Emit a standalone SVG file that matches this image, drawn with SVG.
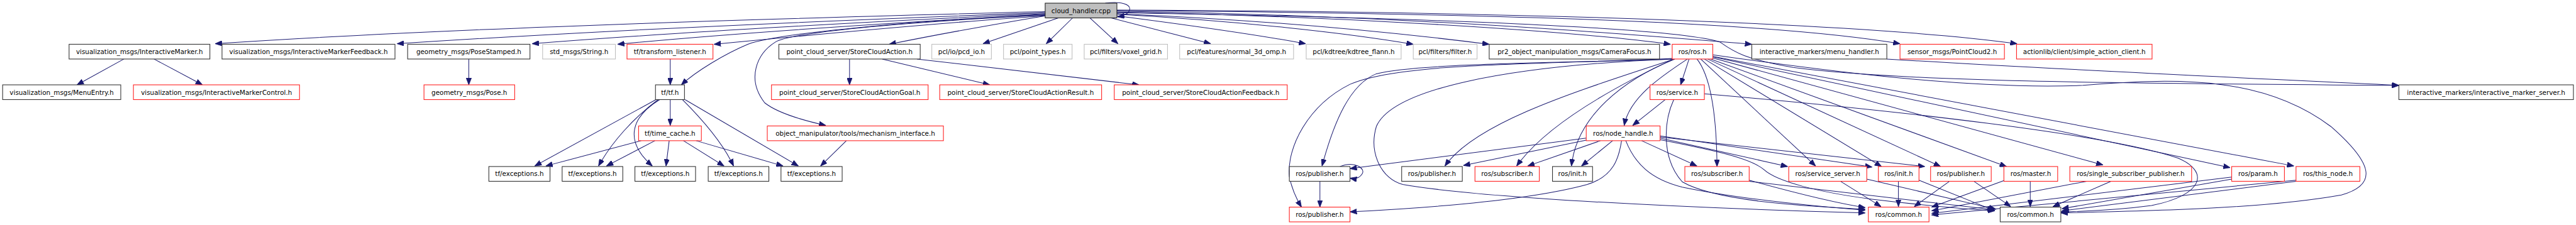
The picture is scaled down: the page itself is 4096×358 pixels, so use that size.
<svg xmlns="http://www.w3.org/2000/svg" width="4096" height="358" viewBox="0 0 4096 358">
<style>
.n rect{fill:#fff;stroke-width:1.3}
.b rect{stroke:#333}
.r rect{stroke:#ff2020}
.g rect{stroke:#bfbfbf}
.root rect{fill:#bfbfbf;stroke:#222}
text{font-family:"DejaVu Sans","Liberation Sans",sans-serif;font-size:12.4px;text-anchor:middle;fill:#000}
#edges path{fill:none;stroke:#191970;stroke-width:1.2;marker-end:url(#a)}
</style>
<defs>
<marker id="a" viewBox="0 0 13 10" refX="13" refY="5" markerWidth="13" markerHeight="10" markerUnits="userSpaceOnUse" orient="auto"><path d="M0,0 L13,5 L0,10 z" fill="#191970" stroke="#191970" stroke-width="1"/></marker>
</defs>
<rect width="4096" height="358" fill="#fff"/>
<g transform="scale(0.8385)">
<g id="edges">
<path d="M1982,22 C1600,32 900,50 408,83"/>
<path d="M1982,24 C1600,38 1100,60 753,83"/>
<path d="M1982,26 C1700,38 1300,60 1009,83"/>
<path d="M1982,27 C1750,40 1400,62 1171,84"/>
<path d="M1982,30 C1800,42 1550,65 1354,84"/>
<path d="M1982,28 C1750,38 1480,62 1418,84 C1375,102 1320,135 1292,161"/>
<path d="M1982,29 C1700,42 1500,62 1470,80 C1435,102 1415,150 1450,195 C1475,215 1530,230 1566,238"/>
<path d="M1982,30 C1880,47 1780,65 1686,84"/>
<path d="M2007,34 L1864,83"/>
<path d="M2034,34 L1984,83"/>
<path d="M2067,34 L2120,83"/>
<path d="M2107,34 L2296,83"/>
<path d="M2118,30 C2250,47 2380,65 2476,83"/>
<path d="M2118,27 C2350,40 2550,62 2680,84"/>
<path d="M2118,26 C2400,38 2650,62 2824,84"/>
<path d="M2118,23 C2500,30 2950,55 3168,84"/>
<path d="M2118,21 C2700,30 3150,70 3322,84"/>
<path d="M2118,20 C2800,25 3350,40 3603,83"/>
<path d="M2118,19 C2900,22 3550,45 3825,83"/>
<path d="M2118,24 C2700,34 3180,52 3262,80 C3290,100 3310,112 3400,128 C3600,155 4000,158 4549,162"/>
<path d="M2096,6 C2125,2 2145,8 2142,19 C2140,26 2132,30 2119,32"/>
<path d="M235,112 L146,161"/>
<path d="M292,112 L384,161"/>
<path d="M889,112 L889,161"/>
<path d="M1271,112 L1271,161"/>
<path d="M1611,112 L1611,161"/>
<path d="M1673,112 L1877,161"/>
<path d="M1739,112 L2160,161"/>
<path d="M1244,189 L1014,315"/>
<path d="M1248,189 C1200,225 1160,270 1135,315"/>
<path d="M1251,189 C1200,220 1180,265 1237,315"/>
<path d="M1271,189 L1271,238"/>
<path d="M1294,189 C1330,225 1370,270 1391,315"/>
<path d="M1299,189 L1514,315"/>
<path d="M1216,267 L1035,315"/>
<path d="M1242,267 L1150,315"/>
<path d="M1269,267 L1263,315"/>
<path d="M1296,267 L1373,315"/>
<path d="M1320,267 L1485,315"/>
<path d="M1605,267 L1556,315"/>
<path d="M3203,112 L3187,161"/>
<path d="M3200,112 C3150,145 3090,185 3080,238"/>
<path d="M3171,111 C3000,120 2700,118 2610,140 C2560,160 2530,230 2507,315"/>
<path d="M3171,112 C2900,122 2650,120 2560,160 C2480,200 2440,280 2445,335 C2450,360 2460,380 2468,393"/>
<path d="M3172,113 C3000,170 2800,230 2740,315"/>
<path d="M3174,112 C3050,170 2930,240 2876,315"/>
<path d="M3176,112 C3080,150 2990,220 2980,315"/>
<path d="M3171,112 C2850,125 2640,170 2610,240 C2595,290 2620,340 2660,350 C2800,375 3200,395 3537,404"/>
<path d="M3218,112 C3240,140 3255,200 3256,316"/>
<path d="M3225,112 L3443,315"/>
<path d="M3232,112 L3568,316"/>
<path d="M3238,112 L3680,316"/>
<path d="M3244,112 L3805,316"/>
<path d="M3248,110 L3988,313"/>
<path d="M3248,108 L4229,318"/>
<path d="M3248,107 L4350,315"/>
<path d="M3248,104 C3500,140 3750,170 3950,162 C4150,145 4300,150 4420,240 C4500,310 4510,350 4440,370 C4300,395 4100,400 3908,404"/>
<path d="M3158,189 L3096,238"/>
<path d="M3174,189 C3155,230 3150,300 3190,345 C3250,380 3400,390 3537,397"/>
<path d="M3232,178 C3600,210 4000,255 4130,300 C4190,325 4180,370 4080,390 C4020,398 3960,401 3908,402"/>
<path d="M3008,262 L2560,320"/>
<path d="M3008,266 L2775,314"/>
<path d="M3035,267 L2897,315"/>
<path d="M3058,267 L2999,315"/>
<path d="M3075,267 C3070,300 3060,335 3010,350 C2900,380 2700,395 2560,402"/>
<path d="M3083,267 C3100,310 3130,340 3190,355 C3300,378 3450,392 3537,399"/>
<path d="M3113,267 L3218,315"/>
<path d="M3148,262 L3390,316"/>
<path d="M3148,258 L3550,317"/>
<path d="M3148,260 L3650,316"/>
<path d="M3148,265 C3250,285 3320,300 3345,322 C3370,345 3450,365 3550,378 C3650,390 3720,396 3783,400"/>
<path d="M3317,342 C3400,365 3480,385 3537,394"/>
<path d="M3317,344 L3782,398"/>
<path d="M3490,344 L3567,392"/>
<path d="M3540,340 L3785,397"/>
<path d="M3600,344 L3600,392"/>
<path d="M3639,342 L3783,400"/>
<path d="M3697,344 L3630,392"/>
<path d="M3743,344 L3813,392"/>
<path d="M3802,342 L3663,393"/>
<path d="M3850,344 L3850,392"/>
<path d="M3957,344 L3663,400"/>
<path d="M4003,344 L3893,392"/>
<path d="M4232,336 L3663,405"/>
<path d="M4232,340 L3910,396"/>
<path d="M4354,342 L3663,408"/>
<path d="M4354,344 L3910,400"/>
<path d="M2541,316 C2570,305 2590,320 2583,330 C2578,338 2570,340 2560,338"/>
<path d="M2503,344 L2503,393"/>
<path d="M3578,112 C3900,132 4300,150 4549,162"/>
</g>
<g id="n_root" class="n root"><rect x="1982" y="6" width="136" height="28"/><text x="2050" y="24.5">cloud_handler.cpp</text></g>
<g id="n_im" class="n b"><rect x="131" y="84" width="267" height="28"/><text x="264.5" y="102.5">visualization_msgs/InteractiveMarker.h</text></g>
<g id="n_imf" class="n b"><rect x="421" y="84" width="328" height="28"/><text x="585" y="102.5">visualization_msgs/InteractiveMarkerFeedback.h</text></g>
<g id="n_ps" class="n b"><rect x="773" y="84" width="232" height="28"/><text x="889" y="102.5">geometry_msgs/PoseStamped.h</text></g>
<g id="n_str" class="n g"><rect x="1029" y="84" width="138" height="28"/><text x="1098" y="102.5">std_msgs/String.h</text></g>
<g id="n_tl" class="n r"><rect x="1189" y="84" width="163" height="28"/><text x="1270.5" y="102.5">tf/transform_listener.h</text></g>
<g id="n_sca" class="n b"><rect x="1477" y="84" width="268" height="28"/><text x="1611" y="102.5">point_cloud_server/StoreCloudAction.h</text></g>
<g id="n_pcd" class="n g"><rect x="1767" y="84" width="113" height="28"/><text x="1823.5" y="102.5">pcl/io/pcd_io.h</text></g>
<g id="n_pt" class="n g"><rect x="1903" y="84" width="130" height="28"/><text x="1968" y="102.5">pcl/point_types.h</text></g>
<g id="n_vg" class="n g"><rect x="2056" y="84" width="158" height="28"/><text x="2135" y="102.5">pcl/filters/voxel_grid.h</text></g>
<g id="n_n3d" class="n g"><rect x="2237" y="84" width="216" height="28"/><text x="2345" y="102.5">pcl/features/normal_3d_omp.h</text></g>
<g id="n_kd" class="n g"><rect x="2477" y="84" width="180" height="28"/><text x="2567" y="102.5">pcl/kdtree/kdtree_flann.h</text></g>
<g id="n_flt" class="n g"><rect x="2680" y="84" width="121" height="28"/><text x="2740.5" y="102.5">pcl/filters/filter.h</text></g>
<g id="n_cf" class="n b"><rect x="2824" y="84" width="323" height="28"/><text x="2985.5" y="102.5">pr2_object_manipulation_msgs/CameraFocus.h</text></g>
<g id="n_ros" class="n r"><rect x="3171" y="84" width="77" height="28"/><text x="3209.5" y="102.5">ros/ros.h</text></g>
<g id="n_mh" class="n b"><rect x="3322" y="84" width="256" height="28"/><text x="3450" y="102.5">interactive_markers/menu_handler.h</text></g>
<g id="n_pc2" class="n r"><rect x="3603" y="84" width="198" height="28"/><text x="3702" y="102.5">sensor_msgs/PointCloud2.h</text></g>
<g id="n_sac" class="n r"><rect x="3824" y="84" width="257" height="28"/><text x="3952.5" y="102.5">actionlib/client/simple_action_client.h</text></g>
<g id="n_me" class="n b"><rect x="5" y="161" width="224" height="28"/><text x="117" y="179.5">visualization_msgs/MenuEntry.h</text></g>
<g id="n_imc" class="n r"><rect x="253" y="161" width="315" height="28"/><text x="410.5" y="179.5">visualization_msgs/InteractiveMarkerControl.h</text></g>
<g id="n_pose" class="n r"><rect x="804" y="161" width="172" height="28"/><text x="890" y="179.5">geometry_msgs/Pose.h</text></g>
<g id="n_tf" class="n b"><rect x="1243" y="161" width="55" height="28"/><text x="1270.5" y="179.5">tf/tf.h</text></g>
<g id="n_goal" class="n r"><rect x="1463" y="161" width="297" height="28"/><text x="1611.5" y="179.5">point_cloud_server/StoreCloudActionGoal.h</text></g>
<g id="n_res" class="n r"><rect x="1782" y="161" width="307" height="28"/><text x="1935.5" y="179.5">point_cloud_server/StoreCloudActionResult.h</text></g>
<g id="n_fb" class="n r"><rect x="2113" y="161" width="328" height="28"/><text x="2277" y="179.5">point_cloud_server/StoreCloudActionFeedback.h</text></g>
<g id="n_srv" class="n r"><rect x="3129" y="161" width="103" height="28"/><text x="3180.5" y="179.5">ros/service.h</text></g>
<g id="n_ims" class="n b"><rect x="4549" y="161" width="331" height="28"/><text x="4714.5" y="179.5">interactive_markers/interactive_marker_server.h</text></g>
<g id="n_tc" class="n r"><rect x="1211" y="239" width="119" height="28"/><text x="1270.5" y="257.5">tf/time_cache.h</text></g>
<g id="n_mech" class="n r"><rect x="1455" y="239" width="334" height="28"/><text x="1622" y="257.5">object_manipulator/tools/mechanism_interface.h</text></g>
<g id="n_nh" class="n r"><rect x="3008" y="239" width="140" height="28"/><text x="3078" y="257.5">ros/node_handle.h</text></g>
<g id="n_ex1" class="n b"><rect x="927" y="316" width="116" height="28"/><text x="985" y="334.5">tf/exceptions.h</text></g>
<g id="n_ex2" class="n b"><rect x="1066" y="316" width="115" height="28"/><text x="1123.5" y="334.5">tf/exceptions.h</text></g>
<g id="n_ex3" class="n b"><rect x="1204" y="316" width="115" height="28"/><text x="1261.5" y="334.5">tf/exceptions.h</text></g>
<g id="n_ex4" class="n b"><rect x="1343" y="316" width="115" height="28"/><text x="1400.5" y="334.5">tf/exceptions.h</text></g>
<g id="n_ex5" class="n b"><rect x="1481" y="316" width="116" height="28"/><text x="1539" y="334.5">tf/exceptions.h</text></g>
<g id="n_puba" class="n b"><rect x="2445" y="316" width="115" height="28"/><text x="2502.5" y="334.5">ros/publisher.h</text></g>
<g id="n_pubb" class="n b"><rect x="2658" y="316" width="115" height="28"/><text x="2715.5" y="334.5">ros/publisher.h</text></g>
<g id="n_subc" class="n r"><rect x="2797" y="316" width="122" height="28"/><text x="2858" y="334.5">ros/subscriber.h</text></g>
<g id="n_initd" class="n b"><rect x="2944" y="316" width="76" height="28"/><text x="2982" y="334.5">ros/init.h</text></g>
<g id="n_sube" class="n r"><rect x="3195" y="316" width="122" height="28"/><text x="3256" y="334.5">ros/subscriber.h</text></g>
<g id="n_ss" class="n r"><rect x="3392" y="316" width="148" height="28"/><text x="3466" y="334.5">ros/service_server.h</text></g>
<g id="n_initr" class="n r"><rect x="3562" y="316" width="77" height="28"/><text x="3600.5" y="334.5">ros/init.h</text></g>
<g id="n_pubr" class="n r"><rect x="3661" y="316" width="115" height="28"/><text x="3718.5" y="334.5">ros/publisher.h</text></g>
<g id="n_mst" class="n r"><rect x="3800" y="316" width="102" height="28"/><text x="3851" y="334.5">ros/master.h</text></g>
<g id="n_ssp" class="n r"><rect x="3925" y="316" width="231" height="28"/><text x="4040.5" y="334.5">ros/single_subscriber_publisher.h</text></g>
<g id="n_prm" class="n r"><rect x="4232" y="316" width="100" height="28"/><text x="4282" y="334.5">ros/param.h</text></g>
<g id="n_tn" class="n r"><rect x="4354" y="316" width="121" height="28"/><text x="4414.5" y="334.5">ros/this_node.h</text></g>
<g id="n_pubf" class="n r"><rect x="2445" y="393" width="115" height="28"/><text x="2502.5" y="411.5">ros/publisher.h</text></g>
<g id="n_cmr" class="n r"><rect x="3543" y="393" width="115" height="28"/><text x="3600.5" y="411.5">ros/common.h</text></g>
<g id="n_cmb" class="n b"><rect x="3793" y="393" width="115" height="28"/><text x="3850.5" y="411.5">ros/common.h</text></g>
</g>
</svg>
